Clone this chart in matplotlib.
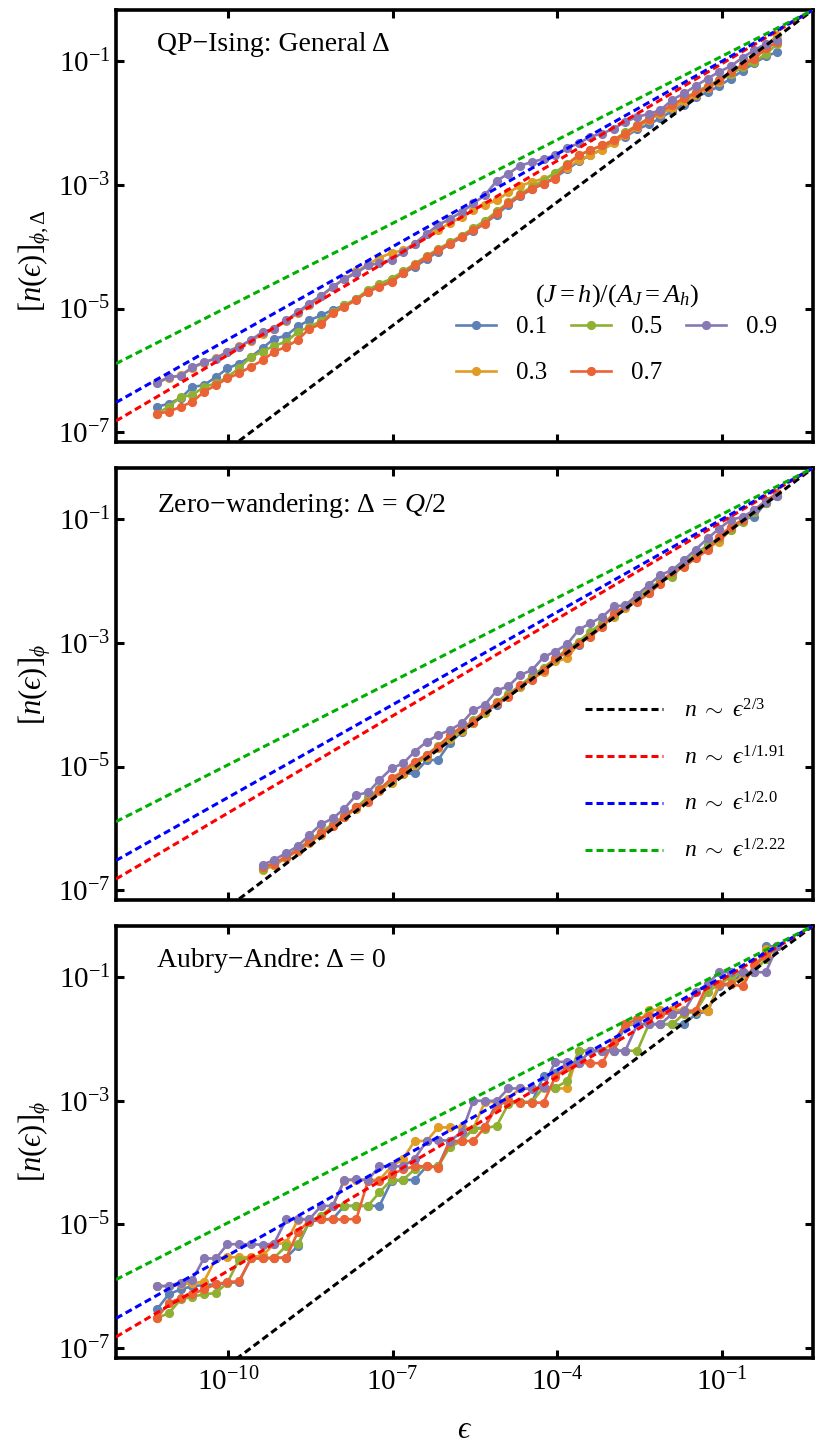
import numpy as np
import matplotlib.pyplot as plt
from matplotlib.ticker import FixedLocator, FuncFormatter, NullLocator

plt.rcParams['font.family'] = 'Liberation Serif'
plt.rcParams['mathtext.fontset'] = 'custom'
plt.rcParams['mathtext.rm'] = 'Liberation Serif'
plt.rcParams['mathtext.it'] = 'Liberation Serif:italic'
plt.rcParams['mathtext.bf'] = 'Liberation Serif:bold'

# log10(epsilon) of each data point
log_eps = [-11.29, -11.08, -10.86, -10.65, -10.44, -10.22, -10.01, -9.80, -9.58, -9.37,
           -9.16, -8.94, -8.73, -8.52, -8.30, -8.09, -7.88, -7.66, -7.45, -7.24,
           -7.02, -6.81, -6.60, -6.38, -6.17, -5.96, -5.74, -5.53, -5.32, -5.10,
           -4.89, -4.68, -4.46, -4.25, -4.04, -3.82, -3.61, -3.40, -3.18, -2.97,
           -2.76, -2.54, -2.33, -2.12, -1.90, -1.69, -1.48, -1.26, -1.05, -0.84,
           -0.62, -0.41, -0.20, 0.01]
mid_start = 9  # middle panel starts later

ratios = ['0.1', '0.3', '0.5', '0.7', '0.9']
colors = ['#5E81B5', '#E19C24', '#8FB032', '#EB6235', '#8778B3']

# panel 1: QP-Ising, general Delta  (log10 n)
top_01 = [-6.59, -6.54, -6.45, -6.27, -6.24, -6.11, -5.97, -5.89, -5.78, -5.64,
          -5.49, -5.44, -5.29, -5.19, -5.11, -5.02, -4.95, -4.85, -4.73, -4.64,
          -4.56, -4.43, -4.33, -4.20, -4.08, -3.96, -3.85, -3.75, -3.62, -3.48,
          -3.32, -3.18, -3.07, -2.98, -2.88, -2.75, -2.62, -2.52, -2.42, -2.30,
          -2.22, -2.10, -2.02, -1.92, -1.80, -1.70, -1.58, -1.50, -1.40, -1.28,
          -1.15, -1.03, -0.92, -0.85]
top_03 = [-6.19, -6.12, -6.08, -5.96, -5.88, -5.80, -5.70, -5.61, -5.52, -5.42,
          -5.33, -5.20, -5.08, -4.94, -4.80, -4.65, -4.52, -4.40, -4.29, -4.18,
          -4.10, -4.06, -3.95, -3.80, -3.73, -3.62, -3.52, -3.40, -3.32, -3.25,
          -3.12, -3.02, -2.95, -2.90, -2.83, -2.72, -2.60, -2.52, -2.43, -2.33,
          -2.20, -2.07, -1.95, -1.85, -1.76, -1.65, -1.55, -1.44, -1.33, -1.20,
          -1.05, -0.92, -0.75, -0.58]
top_05 = [-6.70, -6.59, -6.43, -6.40, -6.27, -6.21, -6.11, -5.97, -5.78, -5.70,
          -5.60, -5.54, -5.38, -5.30, -5.20, -5.06, -4.95, -4.84, -4.70, -4.60,
          -4.52, -4.40, -4.28, -4.15, -4.04, -3.93, -3.82, -3.70, -3.58, -3.43,
          -3.28, -3.15, -3.03, -2.93, -2.80, -2.66, -2.52, -2.44, -2.36, -2.27,
          -2.15, -2.03, -1.92, -1.81, -1.70, -1.60, -1.50, -1.40, -1.30, -1.20,
          -1.10, -1.01, -0.88, -0.72]
top_07 = [-6.70, -6.67, -6.59, -6.51, -6.35, -6.24, -6.13, -6.05, -5.94, -5.84,
          -5.70, -5.62, -5.51, -5.33, -5.25, -5.08, -4.97, -4.86, -4.73, -4.65,
          -4.57, -4.43, -4.30, -4.17, -4.06, -3.95, -3.84, -3.73, -3.63, -3.45,
          -3.30, -3.17, -3.06, -2.98, -2.90, -2.68, -2.52, -2.44, -2.36, -2.28,
          -2.17, -2.04, -1.93, -1.82, -1.71, -1.60, -1.52, -1.42, -1.31, -1.17,
          -1.06, -0.96, -0.79, -0.69]
top_09 = [-6.21, -6.11, -6.09, -5.95, -5.87, -5.81, -5.70, -5.62, -5.51, -5.38,
          -5.33, -5.19, -5.06, -4.92, -4.79, -4.65, -4.52, -4.43, -4.30, -4.27,
          -4.21, -4.09, -3.95, -3.79, -3.65, -3.55, -3.44, -3.30, -3.17, -2.93,
          -2.82, -2.69, -2.63, -2.58, -2.52, -2.40, -2.33, -2.22, -2.17, -2.09,
          -1.98, -1.90, -1.85, -1.79, -1.62, -1.52, -1.40, -1.28, -1.17, -1.08,
          -0.94, -0.82, -0.72, -0.66]

# panel 2: zero-wandering, Delta = Q/2
mid_01 = [-6.65, -6.60, -6.47, -6.36, -6.22, -6.08, -5.95, -5.80, -5.66, -5.52,
          -5.36, -5.24, -5.12, -5.11, -4.90, -4.89, -4.62, -4.44, -4.30, -4.12,
          -4.00, -3.86, -3.70, -3.55, -3.42, -3.28, -3.14, -3.03, -2.86, -2.70,
          -2.57, -2.42, -2.28, -2.20, -2.00, -1.86, -1.72, -1.57, -1.42, -1.30,
          -1.16, -1.00, -0.96, -0.73, -0.62]
mid_03 = [-6.68, -6.60, -6.48, -6.36, -6.24, -6.10, -5.96, -5.82, -5.68, -5.55,
          -5.40, -5.26, -5.12, -4.98, -4.84, -4.70, -4.56, -4.42, -4.30, -4.14,
          -3.95, -3.85, -3.72, -3.58, -3.47, -3.30, -3.25, -3.00, -2.86, -2.72,
          -2.58, -2.44, -2.30, -2.16, -2.02, -1.88, -1.74, -1.60, -1.46, -1.36,
          -1.17, -1.03, -0.88, -0.74, -0.60]
mid_05 = [-6.66, -6.58, -6.46, -6.34, -6.20, -6.06, -5.93, -5.80, -5.66, -5.50,
          -5.36, -5.22, -5.08, -4.95, -4.82, -4.66, -4.52, -4.40, -4.25, -4.12,
          -3.96, -3.82, -3.70, -3.53, -3.40, -3.26, -3.10, -2.98, -2.82, -2.68,
          -2.55, -2.41, -2.27, -2.12, -2.00, -1.93, -1.72, -1.56, -1.44, -1.30,
          -1.17, -1.04, -0.88, -0.74, -0.62]
mid_07 = [-6.62, -6.57, -6.46, -6.35, -6.22, -6.08, -5.97, -5.81, -5.65, -5.57,
          -5.38, -5.19, -5.08, -4.92, -4.81, -4.68, -4.49, -4.36, -4.28, -4.09,
          -3.98, -3.87, -3.68, -3.60, -3.44, -3.25, -3.14, -3.01, -2.90, -2.74,
          -2.52, -2.41, -2.33, -2.20, -2.04, -1.85, -1.77, -1.63, -1.50, -1.28,
          -1.12, -1.01, -0.85, -0.70, -0.58]
mid_09 = [-6.59, -6.51, -6.40, -6.29, -6.11, -5.93, -5.84, -5.68, -5.46, -5.42,
          -5.22, -5.03, -4.95, -4.76, -4.60, -4.49, -4.41, -4.30, -4.09, -4.00,
          -3.77, -3.70, -3.52, -3.44, -3.23, -3.14, -3.02, -2.79, -2.68, -2.58,
          -2.41, -2.39, -2.22, -2.06, -1.90, -1.82, -1.66, -1.49, -1.31, -1.15,
          -1.01, -0.96, -0.85, -0.72, -0.63]

# panel 3: Aubry-Andre, Delta = 0
bot_01 = [-6.37, -6.13, -6.05, -6.00, -5.98, -5.97, -5.95, -5.93, -5.55, -5.55,
          -5.54, -5.54, -5.35, -4.96, -4.92, -4.91, -4.70, -4.70, -4.70, -4.70,
          -4.30, -4.28, -4.28, -4.06, -4.06, -3.65, -3.65, -3.45, -3.43, -3.02,
          -3.02, -3.02, -3.02, -2.60, -2.55, -2.40, -2.39, -2.20, -2.19, -2.19,
          -1.78, -1.76, -1.76, -1.76, -1.76, -1.76, -1.60, -1.55, -1.15, -1.11,
          -0.92, -0.92, -0.50, -0.50]
bot_03 = [-6.00, -6.00, -5.97, -5.95, -5.93, -5.55, -5.53, -5.53, -5.53, -5.50,
          -5.32, -5.30, -4.93, -4.92, -4.92, -4.70, -4.29, -4.28, -4.28, -4.28,
          -4.06, -3.94, -3.65, -3.65, -3.43, -3.43, -3.43, -3.45, -3.02, -3.02,
          -2.97, -2.80, -2.80, -2.80, -2.80, -2.80, -2.19, -2.19, -2.19, -2.05,
          -1.76, -1.76, -1.53, -1.53, -1.53, -1.53, -1.55, -1.55, -1.11, -1.11,
          -1.00, -0.92, -0.55, -0.50]
bot_05 = [-6.51, -6.44, -6.21, -6.17, -6.13, -6.11, -5.94, -5.57, -5.55, -5.55,
          -5.54, -5.35, -5.32, -4.96, -4.86, -4.70, -4.70, -4.70, -4.70, -4.48,
          -4.28, -4.28, -4.11, -4.06, -4.06, -3.75, -3.65, -3.45, -3.45, -3.40,
          -3.05, -3.02, -3.02, -2.78, -2.79, -2.68, -2.19, -2.19, -2.19, -2.19,
          -2.19, -2.19, -1.76, -1.76, -1.76, -1.59, -1.56, -1.24, -1.11, -1.00,
          -0.92, -0.92, -0.70, -0.50]
bot_07 = [-6.51, -6.27, -6.19, -6.13, -6.05, -5.97, -5.93, -5.92, -5.55, -5.55,
          -5.54, -5.54, -5.13, -4.94, -4.92, -4.92, -4.92, -4.91, -4.30, -4.30,
          -4.19, -4.11, -4.06, -4.06, -4.08, -3.67, -3.65, -3.65, -3.43, -3.08,
          -3.00, -3.03, -3.03, -3.03, -2.62, -2.46, -2.39, -2.39, -2.39, -2.05,
          -1.76, -1.68, -1.62, -1.59, -1.59, -1.56, -1.54, -1.11, -1.11, -1.11,
          -1.15, -0.80, -0.65, -0.50]
bot_09 = [-6.00, -5.99, -5.94, -5.90, -5.55, -5.55, -5.32, -5.32, -5.32, -5.33,
          -5.31, -4.92, -4.91, -4.92, -4.70, -4.70, -4.28, -4.27, -4.28, -4.06,
          -4.06, -4.06, -3.94, -3.65, -3.63, -3.65, -3.51, -3.00, -3.00, -3.00,
          -2.80, -2.80, -2.81, -2.78, -2.37, -2.37, -2.39, -2.19, -2.19, -2.19,
          -2.19, -1.76, -1.76, -1.76, -1.59, -1.55, -1.24, -1.11, -0.92, -0.92,
          -0.92, -0.92, -0.92, -0.50]

# power-law guides n = C * eps^a
fit_exponents = [2 / 3, 1 / 1.91, 1 / 2.0, 1 / 2.22]
fit_prefactors = [0.245, 0.305, 0.316, 0.34]
fit_colors = ['black', '#FF0000', '#0000FF', '#00B000']
fit_labels = ['$n\\ \\sim\\ \u03f5^{2/3}$', '$n\\ \\sim\\ \u03f5^{1/1.91}$',
              '$n\\ \\sim\\ \u03f5^{1/2.0}$', '$n\\ \\sim\\ \u03f5^{1/2.22}$']

panels = [
    ('QP\u2212Ising: General \u0394', '$[n(\u03f5)]_{\\phi,\\Delta}$', 0,
     [top_01, top_03, top_05, top_07, top_09]),
    ('Zero\u2212wandering: \u0394 = $Q$/2', '$[n(\u03f5)]_{\\phi}$', mid_start,
     [mid_01, mid_03, mid_05, mid_07, mid_09]),
    ('Aubry\u2212Andre: \u0394 = 0', '$[n(\u03f5)]_{\\phi}$', 0,
     [bot_01, bot_03, bot_05, bot_07, bot_09]),
]

xlim = (10 ** -12.04, 10 ** 0.66)
ylim = (10 ** -7.16, 10 ** -0.17)
eps_line = np.logspace(-12.04, 0.66, 200)
eps = 10 ** np.array(log_eps)

fig = plt.figure(figsize=(8.34, 14.44), dpi=100)
bottoms = [0.6939, 0.3767, 0.0596]
title_y = [0.919, 0.914, 0.919]
label_y = [0.42, 0.5, 0.5]
axes = []

for k, (title, ylab, start, series) in enumerate(panels):
    ax = fig.add_axes([0.1391, bottoms[k], 0.8357, 0.2992])
    axes.append(ax)
    handles = []
    for vals, r, c in zip(series, ratios, colors):
        h, = ax.plot(eps[start:], 10 ** np.array(vals), '-o', color=c, lw=1.9,
                     ms=5.6, label=r, zorder=2)
        handles.append(h)
    fit_handles = []
    for a, C, c, lab in zip(fit_exponents, fit_prefactors, fit_colors, fit_labels):
        h, = ax.plot(eps_line, C * eps_line ** a, color=c, lw=2.2,
                     dashes=(2.3, 1.3), label=lab, zorder=3)
        fit_handles.append(h)

    ax.set_xscale('log')
    ax.set_yscale('log')
    ax.set_xlim(xlim)
    ax.set_ylim(ylim)
    ax.xaxis.set_major_locator(FixedLocator([1e-10, 1e-7, 1e-4, 1e-1]))
    ax.yaxis.set_major_locator(FixedLocator([1e-7, 1e-5, 1e-3, 1e-1]))
    ax.xaxis.set_minor_locator(NullLocator())
    ax.yaxis.set_minor_locator(NullLocator())
    fmt = FuncFormatter(lambda v, p: r'$10^{%d}$' % round(np.log10(v)))
    ax.yaxis.set_major_formatter(fmt)
    ax.xaxis.set_major_formatter(fmt)
    ax.tick_params(which='both', direction='in', top=True, right=True,
                   length=6, width=2.2, labelsize=21)
    ax.tick_params(axis='y', pad=4)
    ax.tick_params(axis='x', pad=7)
    if k < 2:
        ax.tick_params(labelbottom=False)
    for s in ax.spines.values():
        s.set_linewidth(2.6)

    ax.text(0.059, title_y[k], title, transform=ax.transAxes, fontsize=20,
            ha='left', va='center')
    ax.set_ylabel(ylab, fontsize=22)
    ax.yaxis.set_label_coords(-0.09, label_y[k])

    if k == 0:
        ax.text(0.719, 0.338, r'$(J{=}h)/(A_J{=}A_h)$', transform=ax.transAxes,
                fontsize=19, ha='center', va='center')
        ax.legend(handles=handles, ncol=3, loc='upper left',
                  bbox_to_anchor=(0.488, 0.292), frameon=False,
                  fontsize=18, handlelength=1.6, handletextpad=0.8,
                  columnspacing=0.95, labelspacing=0.94,
                  borderpad=0, borderaxespad=0)
    if k == 1:
        ax.legend(handles=fit_handles, loc='upper left',
                  bbox_to_anchor=(0.673, 0.465), frameon=False, fontsize=17,
                  handlelength=3.3, handletextpad=0.9, labelspacing=1.0,
                  borderpad=0, borderaxespad=0)

axes[2].set_xlabel('$\u03f5$', fontsize=22, labelpad=14)

fig.savefig('out.png', dpi=100)
